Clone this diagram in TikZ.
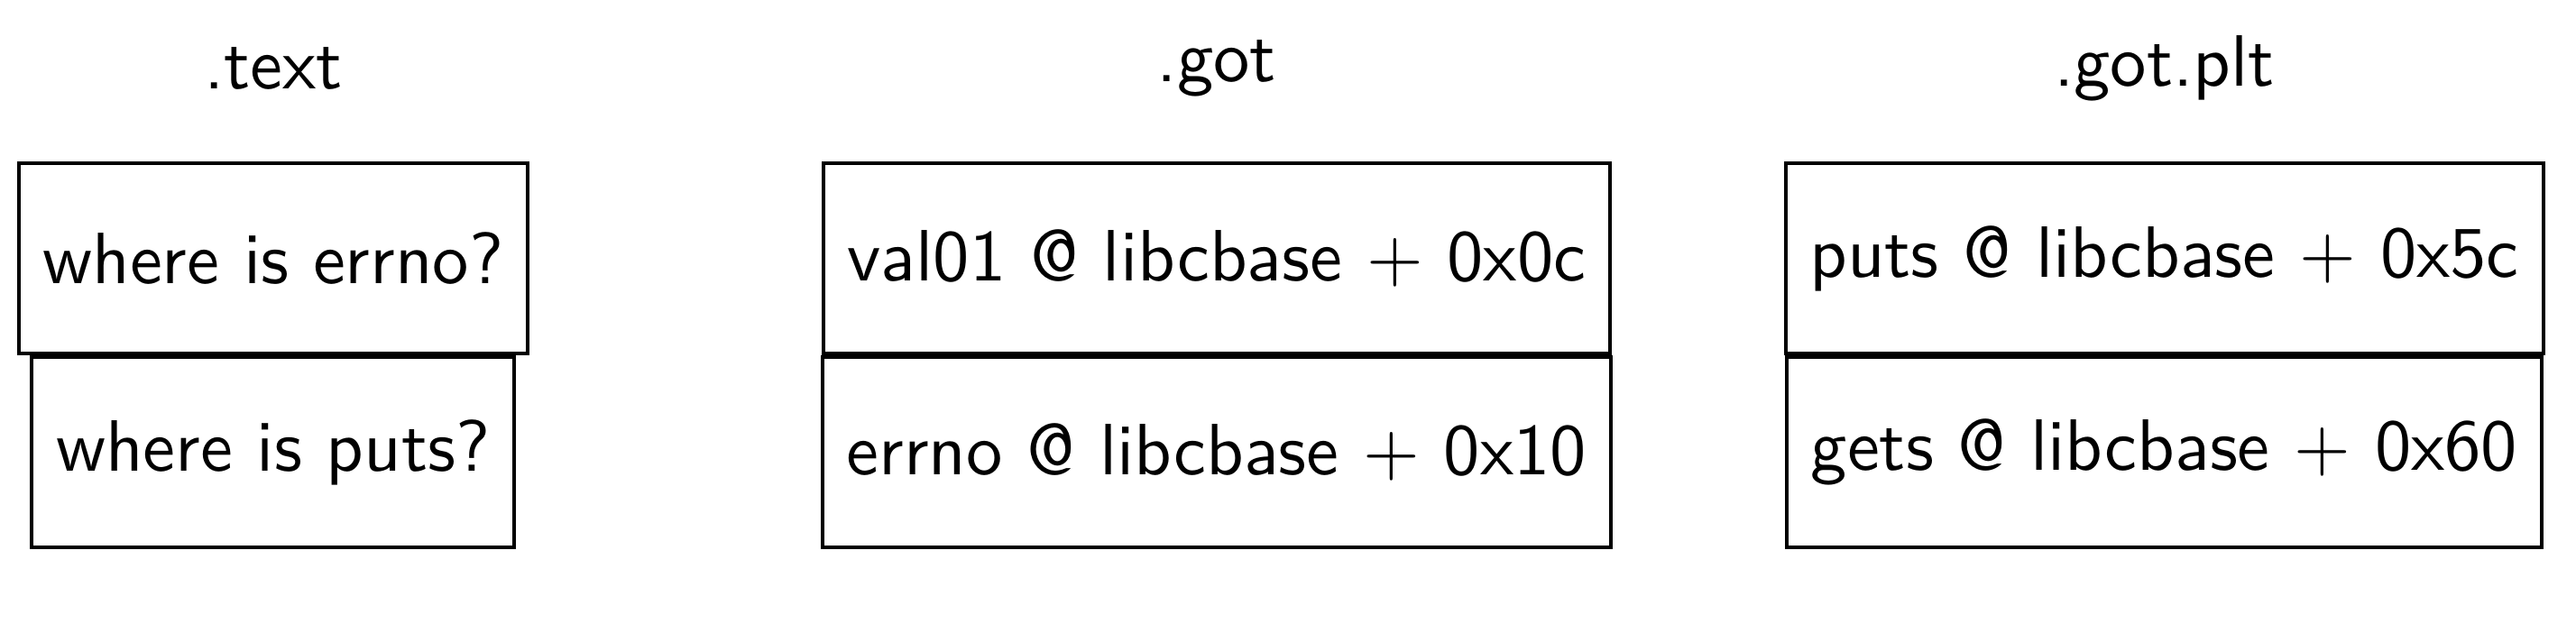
\documentclass[tikz,border=0pt]{standalone}
\usepackage{tikz}
\usetikzlibrary{positioning}

\begin{document}
\begin{tikzpicture}[
  font=\sffamily,
  every node/.style={align=center},
  slot/.style={draw=black,line width=0.5pt,minimum height=0.92cm},
  sect/.style={inner sep=2pt}
]
\useasboundingbox (0,0) rectangle (12.45,-3.10);

\node[sect] (ttext) at (1.32,-0.33)  {.text};
\node[sect] (tgot)  at (5.88,-0.33)  {.got};
\node[sect] (tplt)  at (10.46,-0.33) {.got.plt};

\node[slot] (text1) at (1.32,-1.25) {where is errno?};
\node[slot,below=0pt of text1] (text2) {where is puts?};

\node[slot] (got1) at (5.88,-1.25) {val01 @ libcbase $+$ 0x0c};
\node[slot,below=0pt of got1] (got2) {errno @ libcbase $+$ 0x10};

\node[slot] (plt1) at (10.46,-1.25) {puts @ libcbase $+$ 0x5c};
\node[slot,below=0pt of plt1] (plt2) {gets @ libcbase $+$ 0x60};
\end{tikzpicture}
\end{document}
